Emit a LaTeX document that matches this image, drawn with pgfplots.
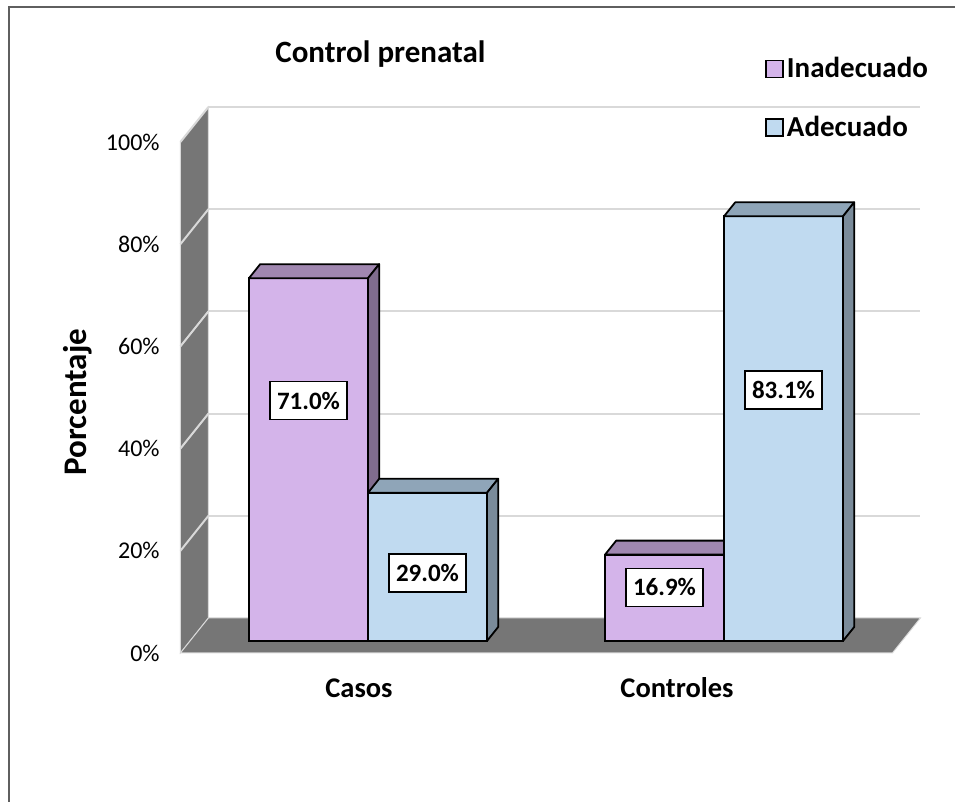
\documentclass[border=0pt]{standalone}
\usepackage{fontspec}
\setmainfont{Carlito}
\usepackage{pgfplots}
\usepackage{pgfplotstable}
\pgfplotsset{compat=1.18}

\definecolor{lilaF}{HTML}{D4B4EA}
\definecolor{lilaT}{HTML}{A087B0}
\definecolor{lilaS}{HTML}{806C8E}
\definecolor{azulF}{HTML}{C0DAF0}
\definecolor{azulT}{HTML}{8FA5B8}
\definecolor{azulS}{HTML}{7A8B9A}
\definecolor{pared}{HTML}{767676}
\definecolor{rejilla}{HTML}{D9D9D9}
\definecolor{marco}{HTML}{5F5F5F}

% Porcentaje de control prenatal por grupo
\pgfplotstableread{
cat inad adec
0   71.0 29.0
1   16.9 83.1
}\datos

\pgfplotstablegetelem{0}{inad}\of\datos \let\vCI\pgfplotsretval
\pgfplotstablegetelem{0}{adec}\of\datos \let\vCA\pgfplotsretval
\pgfplotstablegetelem{1}{inad}\of\datos \let\vKI\pgfplotsretval
\pgfplotstablegetelem{1}{adec}\of\datos \let\vKA\pgfplotsretval

% bar width and depth offset (axis units)
\def\anchobar{0.33427}
\def\profx{0.03146}
\def\profy{2.7397}

% top and right faces of a 3-D bar: #1 left x, #2 value, #3 top colour, #4 side colour
\newcommand\caja[4]{%
  \pgfmathsetmacro\cxa{#1}%
  \pgfmathsetmacro\cxb{#1+\anchobar}%
  \pgfmathsetmacro\cxc{#1+\profx}%
  \pgfmathsetmacro\cxd{#1+\anchobar+\profx}%
  \pgfmathsetmacro\cya{#2}%
  \pgfmathsetmacro\cyb{#2+\profy}%
  \edef\cajacmd{%
    \noexpand\addplot[fill=#3, draw=black, line width=0.9pt, line join=round, forget plot]
      coordinates {(\cxa,\cya) (\cxc,\cyb) (\cxd,\cyb) (\cxb,\cya)} --cycle;
    \noexpand\addplot[fill=#4, draw=black, line width=0.9pt, line join=round, forget plot]
      coordinates {(\cxb,0) (\cxb,\cya) (\cxd,\cyb) (\cxd,\profy)} --cycle;
  }\cajacmd
}

\tikzset{etiqueta/.style={draw=black, fill=white, line width=0.6pt,
  minimum width=38.5pt, minimum height=19pt, inner sep=0pt,
  font=\bfseries\fontsize{12.5}{14}\selectfont}}

\newcommand\valor[1]{\pgfmathprintnumber[fixed,fixed zerofill,precision=1,assume math mode=true]{#1}\%}

\begin{document}
\begin{tikzpicture}
\begin{axis}[
  x=178pt, y=2.555pt,
  xmin=-1.03371, xmax=1.64888, ymin=-31.5068, ymax=125.440,
  axis line style={draw=none}, major tick style={draw=none},
  clip=true,
  ytick={0,20,40,60,80,100},
  yticklabels={0\%,20\%,40\%,60\%,80\%,100\%},
  yticklabel style={font=\fontsize{12}{14}\selectfont, anchor=east, inner sep=0pt,
    xshift=80pt, yshift=-6pt},
  xtick={-0.0253,0.8680},
  xticklabels={Casos,Controles},
  xticklabel style={font=\bfseries\fontsize{14.25}{16}\selectfont, anchor=base,
    inner sep=0pt, yshift=52pt},
  title={Control prenatal},
  title style={at={(rel axis cs:0.28796,0.90648)}, anchor=base west, inner sep=0pt,
    font=\bfseries\fontsize{15.5}{18}\selectfont},
  ylabel={Porcentaje},
  ylabel style={at={(rel axis cs:0.0817,0.4988)}, anchor=center, inner sep=0pt,
    font=\bfseries\fontsize{16.5}{19}\selectfont},
  legend style={at={(rel axis cs:0.8010,0.9327)}, anchor=north west, draw=none,
    fill=none, inner sep=0pt, row sep=14.5pt,
    font=\bfseries\fontsize{14.5}{16}\selectfont,
    nodes={inner sep=1.5pt}},
  legend cell align=left,
  legend image code/.code={\draw[#1] (0pt,-4.25pt) rectangle (8.5pt,4.25pt);},
]
% chart frame (top and left edges)
\addplot[draw=marco, line width=1.25pt, forget plot]
  coordinates {(-1.00843,-40) (-1.00843,124.07) (1.8,124.07)};

% side wall and floor
\addplot[fill=pared, draw=rejilla, line width=0.5pt, forget plot]
  coordinates {(-0.52697,-2.349) (-0.52697,97.651) (-0.44832,104.5) (-0.44832,4.5)} --cycle;
\addplot[fill=pared, draw=rejilla, line width=0.5pt, forget plot]
  coordinates {(-0.52697,-2.349) (1.47303,-2.349) (1.55168,4.5) (-0.44832,4.5)} --cycle;

% gridlines on the back wall
\addplot[rejilla, line width=1pt, forget plot] coordinates {(-0.44832,24.5) (1.55168,24.5)};
\addplot[rejilla, line width=1pt, forget plot] coordinates {(-0.44832,44.5) (1.55168,44.5)};
\addplot[rejilla, line width=1pt, forget plot] coordinates {(-0.44832,64.5) (1.55168,64.5)};
\addplot[rejilla, line width=1pt, forget plot] coordinates {(-0.44832,84.5) (1.55168,84.5)};
\addplot[rejilla, line width=1pt, forget plot] coordinates {(-0.44832,104.5) (1.55168,104.5)};
% gridlines on the side wall
\addplot[rejilla, line width=1pt, forget plot] coordinates {(-0.52697,17.651) (-0.44832,24.5)};
\addplot[rejilla, line width=1pt, forget plot] coordinates {(-0.52697,37.651) (-0.44832,44.5)};
\addplot[rejilla, line width=1pt, forget plot] coordinates {(-0.52697,57.651) (-0.44832,64.5)};
\addplot[rejilla, line width=1pt, forget plot] coordinates {(-0.52697,77.651) (-0.44832,84.5)};
\addplot[rejilla, line width=1pt, forget plot] coordinates {(-0.52697,97.651) (-0.44832,104.5)};

% Inadecuado
\addplot[ybar, bar width=59.5pt, bar shift=-29.75pt, fill=lilaF, draw=black,
  line width=0.9pt, forget plot] table[x=cat, y=inad] {\datos};
\caja{-0.33427}{\vCI}{lilaT}{lilaS}
\caja{0.66573}{\vKI}{lilaT}{lilaS}

% Adecuado
\addplot[ybar, bar width=59.5pt, bar shift=29.75pt, fill=azulF, draw=black,
  line width=0.9pt, forget plot] table[x=cat, y=adec] {\datos};
\caja{0}{\vCA}{azulT}{azulS}
\caja{1}{\vKA}{azulT}{azulS}

% value labels
\node[etiqueta] at (axis cs:-0.16714,47.0) {\valor{\vCI}};
\node[etiqueta] at (axis cs:0.16714,13.3) {\valor{\vCA}};
\node[etiqueta] at (axis cs:0.83286,10.5) {\valor{\vKI}};
\node[etiqueta] at (axis cs:1.16714,49.1) {\valor{\vKA}};

\addlegendimage{fill=lilaF, draw=black, line width=0.8pt}
\addlegendentry{Inadecuado}
\addlegendimage{fill=azulF, draw=black, line width=0.8pt}
\addlegendentry{Adecuado}
\end{axis}
\pgfresetboundingbox
\path[use as bounding box] (current axis.south west) rectangle (current axis.north east);
\end{tikzpicture}
\end{document}
